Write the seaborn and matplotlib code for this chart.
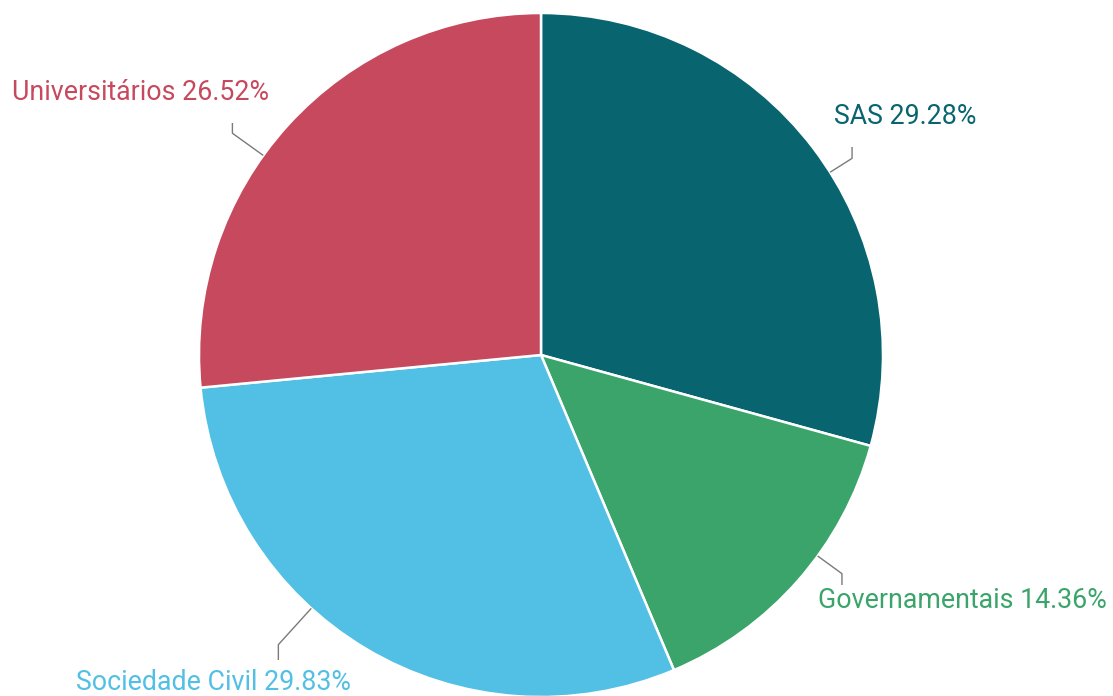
import numpy as np
import matplotlib
matplotlib.use("Agg")
import matplotlib.pyplot as plt
import seaborn as sns

categories = ["SAS", "Governamentais", "Sociedade Civil", "Universitários"]
values = [29.28, 14.36, 29.83, 26.52]
colors = ["#08646F", "#3AA46A", "#52BFE4", "#C7495E"]

# label layout (image pixel coords): connector angle (deg), elbow radius, end y, text center
label_angle = [32.3, -36.0, -132.2, 144.3]
elbow_r = [368, 372, 391, 380]
line_end_y = [147, 585, 660, 123]
text_pos = [(905, 117), (962, 601), (213, 683), (140, 92)]

sns.set_theme(style="white")
plt.rcParams["font.family"] = ["Roboto", "DejaVu Sans"]

W, H = 1113, 696
fig = plt.figure(figsize=(W / 100, H / 100), dpi=100)
ax = fig.add_axes([0, 0, 1, 1])

cx, cy, R = 541, H - 355, 342
ax.pie(values, colors=colors, startangle=90, counterclock=False,
       center=(cx, cy), radius=R, frame=True,
       wedgeprops=dict(edgecolor="white", linewidth=1.8))
ax.set_xlim(0, W)
ax.set_ylim(0, H)
ax.set_aspect("equal")
ax.axis("off")

for cat, v, col, a, er, ey, tp in zip(categories, values, colors, label_angle,
                                      elbow_r, line_end_y, text_pos):
    t = np.deg2rad(a)
    x0, y0 = cx + R * np.cos(t), cy + R * np.sin(t)
    x1, y1 = cx + er * np.cos(t), cy + er * np.sin(t)
    ax.plot([x0, x1, x1], [y0, y1, H - ey], color="#7a7a7a", lw=1.0,
            solid_capstyle="butt")
    ax.text(tp[0], H - tp[1], f"{cat} {v:.2f}%", color=col, fontsize=19.3,
            ha="center", va="center")

fig.savefig("out.png", dpi=100)
